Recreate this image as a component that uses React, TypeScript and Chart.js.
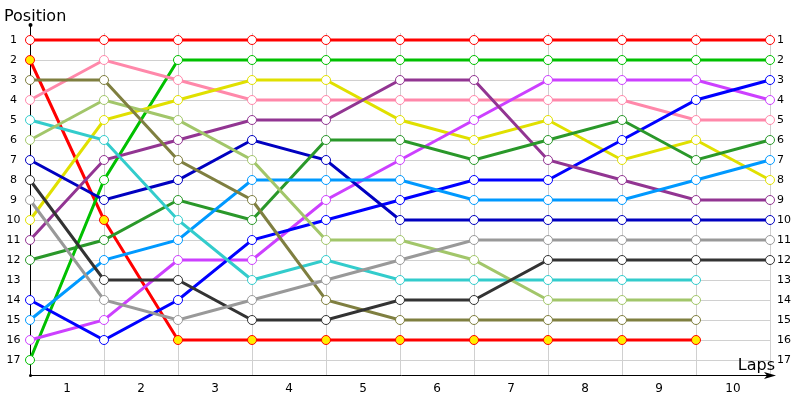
import React, { useEffect, useRef } from "react";
import { Chart, registerables } from "chart.js";

Chart.register(...registerables);

const lapPoints = ["0", "1", "2", "3", "4", "5", "6", "7", "8", "9", "10"];
const lapLabels = ["1", "2", "3", "4", "5", "6", "7", "8", "9", "10"];
const positions = [1, 2, 3, 4, 5, 6, 7, 8, 9, 10, 11, 12, 13, 14, 15, 16, 17];

const redLeader = [1, 1, 1, 1, 1, 1, 1, 1, 1, 1, 1];
const redYellow = [2, 10, 16, 16, 16, 16, 16, 16, 16, 16];
const brightGreen = [17, 8, 2, 2, 2, 2, 2, 2, 2, 2, 2];
const pink = [4, 2, 3, 4, 4, 4, 4, 4, 4, 5, 5];
const olive = [3, 3, 7, 9, 14, 15, 15, 15, 15, 15];
const lightGreen = [6, 4, 5, 7, 11, 11, 12, 14, 14, 14];
const yellow = [10, 5, 4, 3, 3, 5, 6, 5, 7, 6, 8];
const cyan = [5, 6, 10, 13, 12, 13, 13, 13, 13, 13];
const darkBlue = [7, 9, 8, 6, 7, 10, 10, 10, 10, 10, 10];
const purple = [11, 7, 6, 5, 5, 3, 3, 7, 8, 9, 9];
const darkGray = [8, 13, 13, 15, 15, 14, 14, 12, 12, 12, 12];
const gray = [9, 14, 15, 14, 13, 12, 11, 11, 11, 11, 11];
const forest = [12, 11, 9, 10, 6, 6, 7, 6, 5, 7, 6];
const lightBlue = [15, 12, 11, 8, 8, 8, 9, 9, 9, 8, 7];
const blue = [14, 16, 14, 11, 10, 9, 8, 8, 6, 4, 3];
const magenta = [16, 15, 12, 12, 9, 7, 5, 3, 3, 3, 4];

const seriesList: { data: number[]; color: string; fill?: string }[] = [
  { data: gray, color: "#999999" },
  { data: darkGray, color: "#333333" },
  { data: olive, color: "#7f7f40" },
  { data: lightGreen, color: "#a2c66a" },
  { data: cyan, color: "#33cccc" },
  { data: lightBlue, color: "#0099ff" },
  { data: forest, color: "#2a982a" },
  { data: purple, color: "#923592" },
  { data: darkBlue, color: "#0000c0" },
  { data: blue, color: "#0000ff" },
  { data: magenta, color: "#cc40ff" },
  { data: yellow, color: "#e0e000" },
  { data: pink, color: "#ff88aa" },
  { data: brightGreen, color: "#00c000" },
  { data: redYellow, color: "#ff0000", fill: "#ffee00" },
  { data: redLeader, color: "#ff0000" },
];

const FONT = "'DejaVu Sans', Verdana, sans-serif";

const framePlugin = {
  id: "frame",
  beforeDatasetsDraw(chart: any) {
    const ctx = chart.ctx;
    const xs = chart.scales.x;
    const ys = chart.scales.y;
    const area = chart.chartArea;
    ctx.save();
    // grid
    ctx.strokeStyle = "#d0d0d0";
    ctx.lineWidth = 1;
    positions.forEach((p) => {
      const y = Math.round(ys.getPixelForValue(p)) + 0.5;
      ctx.beginPath();
      ctx.moveTo(area.left, y);
      ctx.lineTo(area.right, y);
      ctx.stroke();
    });
    lapPoints.forEach((_, i) => {
      const x = Math.round(xs.getPixelForValue(i)) + 0.5;
      ctx.beginPath();
      ctx.moveTo(x, ys.getPixelForValue(0.65));
      ctx.lineTo(x, area.bottom);
      ctx.stroke();
    });
    // axes
    ctx.strokeStyle = "#000000";
    ctx.fillStyle = "#000000";
    const x0 = Math.round(xs.getPixelForValue(0)) + 0.5;
    const yb = Math.round(area.bottom) + 0.5;
    ctx.beginPath();
    ctx.moveTo(x0, area.top);
    ctx.lineTo(x0, yb);
    ctx.lineTo(area.right + 2, yb);
    ctx.stroke();
    ctx.beginPath();
    ctx.arc(x0, area.top, 2, 0, Math.PI * 2);
    ctx.fill();
    ctx.beginPath();
    ctx.arc(x0, yb, 1.5, 0, Math.PI * 2);
    ctx.fill();
    ctx.beginPath();
    ctx.moveTo(area.right - 6, yb - 3.5);
    ctx.lineTo(area.right + 6, yb);
    ctx.lineTo(area.right - 6, yb + 3.5);
    ctx.lineTo(area.right - 3, yb);
    ctx.closePath();
    ctx.fill();
    // labels
    ctx.font = `11px ${FONT}`;
    ctx.textBaseline = "middle";
    positions.forEach((p) => {
      const y = ys.getPixelForValue(p);
      ctx.textAlign = "center";
      ctx.fillText(String(p), 13.5, y);
      ctx.textAlign = "left";
      ctx.fillText(String(p), area.right + 7, y);
    });
    ctx.font = `12px ${FONT}`;
    ctx.textAlign = "center";
    lapLabels.forEach((l, i) => {
      const x = (xs.getPixelForValue(i) + xs.getPixelForValue(i + 1)) / 2;
      ctx.fillText(l, x, 389);
    });
    ctx.font = `16px ${FONT}`;
    ctx.textAlign = "left";
    ctx.textBaseline = "alphabetic";
    ctx.fillText("Position", 4, 21);
    ctx.textAlign = "right";
    ctx.fillText("Laps", area.right + 5, 370);
    ctx.restore();
  },
};

export default function App() {
  const ref = useRef<HTMLCanvasElement | null>(null);
  useEffect(() => {
    if (!ref.current) return;
    const chart = new Chart(ref.current, {
      type: "line",
      data: {
        labels: lapPoints,
        datasets: seriesList.map((s) => ({
          data: s.data,
          borderColor: s.color,
          borderWidth: 3,
          pointRadius: 4.5,
          pointBorderWidth: 1,
          pointBorderColor: s.color,
          pointBackgroundColor: s.fill || "#ffffff",
          tension: 0,
          fill: false,
        })),
      },
      options: {
        responsive: false,
        animation: false,
        layout: { padding: { left: 30, right: 30, top: 25, bottom: 25 } },
        plugins: { legend: { display: false }, tooltip: { enabled: false } },
        scales: {
          x: { type: "category", display: false, offset: false },
          y: { type: "linear", display: false, min: 0.25, max: 17.75, reverse: true },
        },
      },
      plugins: [framePlugin],
    });
    return () => chart.destroy();
  }, []);
  return (
    <div style={{ position: "fixed", left: 0, top: 0, width: 800, height: 400, background: "#fff" }}>
      <canvas ref={ref} width={800} height={400} />
    </div>
  );
}
